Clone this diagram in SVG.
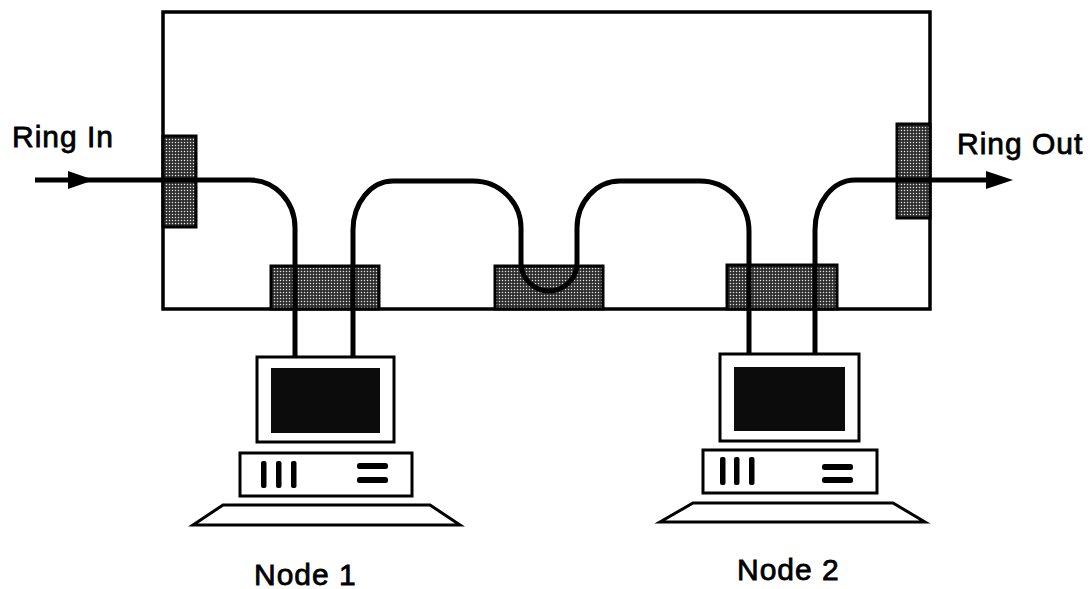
<svg xmlns="http://www.w3.org/2000/svg" width="1092" height="589" viewBox="0 0 1092 589">
  <defs>
    <!-- stippled grey used for the coupler blocks -->
    <pattern id="stipple" width="3" height="3" patternUnits="userSpaceOnUse">
      <rect width="3" height="3" fill="#2e2e2e"/>
      <circle cx="1.5" cy="1.5" r="0.75" fill="#e0e0e0"/>
    </pattern>
  </defs>
  <style>
    .frame { fill: none; stroke: #000; stroke-width: 3.5; }
    .block { fill: url(#stipple); stroke: #000; stroke-width: 3; }
    .ring { fill: none; stroke: #000; stroke-width: 5; stroke-linejoin: round; }
    .box { fill: #fff; stroke: #000; stroke-width: 3; }
    .screen { fill: #0c0c0c; }
    .ink { fill: #000; }
    .label { font-family: "Liberation Sans", Arial, sans-serif; font-size: 30px; fill: #000; stroke: #000; stroke-width: 0.8; letter-spacing: 1px; }
  </style>

  <rect id="white-bg" width="1092" height="589" fill="#fff"/>

  <!-- ring enclosure -->
  <g id="enclosure">
    <rect class="frame" x="163" y="12" width="767" height="297"/>
  </g>

  <!-- coupler blocks -->
  <g id="coupler-in"><rect class="block" x="163" y="136" width="33" height="91"/></g>
  <g id="coupler-node1"><rect class="block" x="271" y="266" width="108" height="43"/></g>
  <g id="coupler-bypass"><rect class="block" x="495" y="266" width="108" height="43"/></g>
  <g id="coupler-node2"><rect class="block" x="727" y="265" width="110" height="44"/></g>
  <g id="coupler-out"><rect class="block" x="897" y="124" width="33" height="94"/></g>

  <!-- ring path and arrows -->
  <g id="connectors">
    <path class="ring" d="M35,180 H250 A45,48 0 0 1 295,228 V358"/>
    <path class="ring" d="M353,358 V230 A40,49 0 0 1 393,181 H473 A48,47 0 0 1 521,228 V263 A28,28 0 0 0 577,263 V228 A43,47 0 0 1 620,181 H700 A49,50 0 0 1 749,231 V356"/>
    <path class="ring" d="M815,356 V230 A40,50 0 0 1 855,180 H990"/>
    <polygon class="ink" points="68,171 94,180 68,189"/>
    <polygon class="ink" points="986,171 1013,180 986,189"/>
  </g>

  <!-- Node 1 workstation -->
  <g id="node1">
    <rect class="box" x="257" y="357" width="137" height="85"/>
    <rect class="screen" x="271" y="368" width="109" height="65"/>
    <rect class="box" x="240" y="453" width="172" height="43"/>
    <rect class="ink" x="261" y="461" width="5.5" height="27" rx="2"/>
    <rect class="ink" x="276" y="461" width="5.5" height="27" rx="2"/>
    <rect class="ink" x="291" y="461" width="5.5" height="27" rx="2"/>
    <rect class="ink" x="357" y="463" width="31" height="6" rx="2.5"/>
    <rect class="ink" x="357" y="477" width="31" height="6" rx="2.5"/>
    <polygon class="box" points="223,505 430,505 460,525 193,525"/>
    <text class="label" x="254" y="585">Node 1</text>
  </g>

  <!-- Node 2 workstation -->
  <g id="node2">
    <rect class="box" x="720" y="354" width="139" height="87"/>
    <rect class="screen" x="734" y="367" width="111" height="64"/>
    <rect class="box" x="703" y="450" width="174" height="43"/>
    <rect class="ink" x="720" y="457" width="5.5" height="28" rx="2"/>
    <rect class="ink" x="734" y="457" width="5.5" height="28" rx="2"/>
    <rect class="ink" x="749" y="457" width="5.5" height="28" rx="2"/>
    <rect class="ink" x="822" y="464" width="31" height="6" rx="2.5"/>
    <rect class="ink" x="822" y="477" width="31" height="6" rx="2.5"/>
    <polygon class="box" points="693,503 893,503 925,522 660,522"/>
    <text class="label" x="737" y="580">Node 2</text>
  </g>

  <!-- ring labels -->
  <g id="ring-in-label"><text class="label" x="12" y="147">Ring  In</text></g>
  <g id="ring-out-label"><text class="label" x="957" y="154">Ring Out</text></g>
</svg>
